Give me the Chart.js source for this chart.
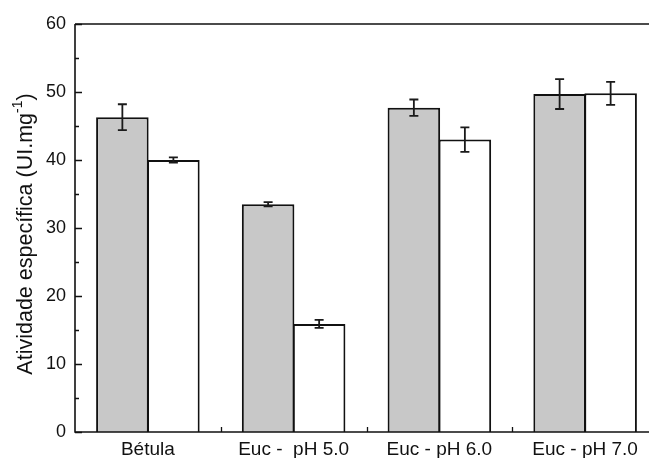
<!DOCTYPE html>
<html>
<head>
<meta charset="utf-8">
<script src="https://cdn.jsdelivr.net/npm/chart.js@4"></script>
<style>
  html, body { margin: 0; padding: 0; background: #fff; overflow: hidden; }
  #wrap { width: 700px; height: 458px; }
</style>
</head>
<body>
<div id="wrap"><canvas id="c" width="700" height="458"></canvas></div>
<script>
// Substrates / conditions on the x axis
const categories = ['Bétula', 'Euc -  pH 5.0', 'Euc - pH 6.0', 'Euc - pH 7.0'];
// Specific activity (UI.mg-1), two series
const seriesGray = [46.3, 33.5, 47.7, 49.7];
const errorGray = [1.9, 0.3, 1.2, 2.2];
const seriesWhite = [40.0, 15.9, 43.0, 49.8];
const errorWhite = [0.4, 0.6, 1.8, 1.7];
// Y axis ticks
const yTicks = [0, 10, 20, 30, 40, 50, 60];
const yMinorTicks = [5, 15, 25, 35, 45, 55];

const FONT = '"Liberation Sans", Arial, Helvetica, sans-serif';
const INK = '#111111';

// Box frame with inward ticks
const framePlugin = {
  id: 'frame',
  afterDraw(chart) {
    const { ctx, chartArea: a, scales } = chart;
    const y = scales.y, x = scales.x;
    ctx.save();
    ctx.strokeStyle = INK;
    ctx.lineWidth = 1.6;
    ctx.beginPath();
    ctx.moveTo(a.left, a.top);
    ctx.lineTo(a.left, a.bottom);
    ctx.lineTo(a.right, a.bottom);
    ctx.moveTo(a.left, a.top);
    ctx.lineTo(a.right, a.top);
    ctx.lineTo(a.right, a.bottom);
    ctx.stroke();
    ctx.lineWidth = 1.3;
    ctx.beginPath();
    yTicks.forEach(v => {
      const py = Math.round(y.getPixelForValue(v)) + 0.5;
      ctx.moveTo(a.left, py); ctx.lineTo(a.left + 7, py);
    });
    yMinorTicks.forEach(v => {
      const py = Math.round(y.getPixelForValue(v)) + 0.5;
      ctx.moveTo(a.left, py); ctx.lineTo(a.left + 4, py);
    });
    // small ticks between categories
    for (let i = 1; i < categories.length; i++) {
      const px = Math.round((x.getPixelForValue(i - 1) + x.getPixelForValue(i)) / 2) + 0.5;
      ctx.moveTo(px, a.bottom); ctx.lineTo(px, a.bottom - 5);
    }
    ctx.stroke();
    ctx.restore();
  }
};

// Error bars (mean ± deviation) drawn on top of each bar
const errorPlugin = {
  id: 'errorBars',
  afterDatasetsDraw(chart) {
    const { ctx, scales } = chart;
    const y = scales.y;
    const errs = [errorGray, errorWhite];
    ctx.save();
    ctx.strokeStyle = '#1a1a1a';
    ctx.lineWidth = 1.8;
    chart.data.datasets.forEach((ds, di) => {
      const meta = chart.getDatasetMeta(di);
      meta.data.forEach((bar, i) => {
        const v = ds.data[i], e = errs[di][i];
        const yt = y.getPixelForValue(v + e);
        const yb = y.getPixelForValue(v - e);
        const cx = bar.x;
        ctx.beginPath();
        ctx.moveTo(cx, yt); ctx.lineTo(cx, yb);
        ctx.moveTo(cx - 4.5, yt); ctx.lineTo(cx + 4.5, yt);
        ctx.moveTo(cx - 4.5, yb); ctx.lineTo(cx + 4.5, yb);
        ctx.stroke();
      });
    });
    ctx.restore();
  }
};

// Rotated y-axis title with superscript unit
const titlePlugin = {
  id: 'yTitle',
  afterDraw(chart) {
    const { ctx, chartArea: a } = chart;
    const main = 'Atividade específica (UI.mg';
    const sup = '-1';
    const close = ')';
    const big = '21.5px ' + FONT, small = '14px ' + FONT;
    ctx.save();
    ctx.fillStyle = INK;
    ctx.font = big;
    const w1 = ctx.measureText(main).width;
    const w3 = ctx.measureText(close).width;
    ctx.font = small;
    const w2 = ctx.measureText(sup).width;
    const total = w1 + w2 + w3;
    ctx.translate(32, 234);
    ctx.rotate(-Math.PI / 2);
    ctx.textBaseline = 'alphabetic';
    ctx.textAlign = 'left';
    let sx = -total / 2;
    ctx.font = big;
    ctx.fillText(main, sx, 0);
    sx += w1;
    ctx.font = small;
    ctx.fillText(sup, sx, -10);
    sx += w2;
    ctx.font = big;
    ctx.fillText(close, sx, 0);
    ctx.restore();
  }
};

new Chart(document.getElementById('c'), {
  type: 'bar',
  data: {
    labels: categories,
    datasets: [
      {
        data: seriesGray,
        backgroundColor: '#c8c8c8',
        borderColor: INK,
        borderWidth: 2,
        borderSkipped: 'start',
        categoryPercentage: 0.7,
        barPercentage: 1.03
      },
      {
        data: seriesWhite,
        backgroundColor: '#ffffff',
        borderColor: INK,
        borderWidth: 2,
        borderSkipped: 'start',
        categoryPercentage: 0.7,
        barPercentage: 1.03
      }
    ]
  },
  options: {
    responsive: false,
    animation: false,
    devicePixelRatio: 1,
    layout: { padding: { top: 24, left: 0, right: 42, bottom: 0 } },
    plugins: { legend: { display: false }, tooltip: { enabled: false }, title: { display: false } },
    scales: {
      x: {
        offset: true,
        grid: { display: false, drawTicks: false },
        border: { display: false },
        ticks: { color: INK, font: { family: FONT, size: 19 }, padding: 6, maxRotation: 0, autoSkip: false },
        afterFit(s) { s.height = 26; }
      },
      y: {
        min: 0, max: 60,
        grid: { display: false, drawTicks: false },
        border: { display: false },
        ticks: { stepSize: 10, color: INK, font: { family: FONT, size: 18 }, padding: 9 },
        afterFit(s) { s.width = 75; }
      }
    }
  },
  plugins: [errorPlugin, framePlugin, titlePlugin]
});
</script>
</body>
</html>
